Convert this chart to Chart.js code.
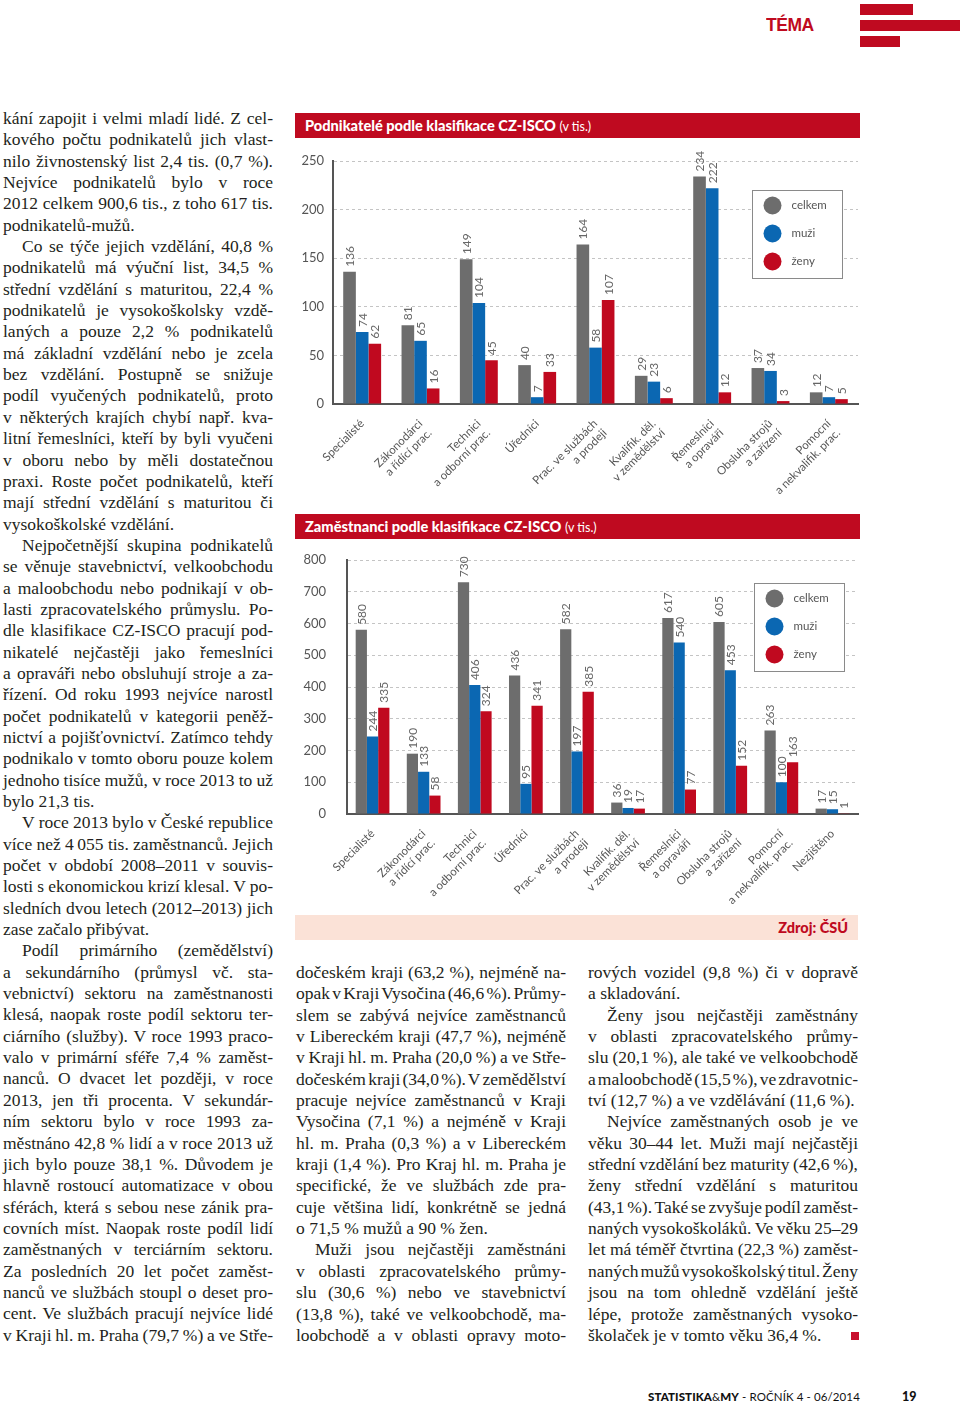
<!DOCTYPE html>
<html lang="cs">
<head>
<meta charset="utf-8">
<title>Podnikatelé a zaměstnanci podle klasifikace CZ-ISCO</title>
<script src="https://cdn.jsdelivr.net/npm/chart.js@4.4.1/dist/chart.umd.min.js"></script>
<style>
	html, body { margin: 0; padding: 0; background: #fff; }
	body { width: 960px; height: 1405px; position: relative; overflow: hidden; }
	.col { position: absolute; width: 270px; font-family: "Liberation Serif", serif; font-size: 17.5px; line-height: 21.35px; color: #231f20; }
	.ln { height: 21.35px; white-space: nowrap; }
	.ln.ind { padding-left: 19px; }
	.bar-title { position: absolute; left: 295px; width: 555px; height: 25px; line-height: 25px; padding-left: 10px; background: #bf0a20; color: #fff; font-family: Lato, sans-serif; font-size: 14.6px; font-weight: 900; }
	.bar-title span { font-weight: 400; font-size: 12.5px; }
	.source { position: absolute; left: 295px; top: 915px; width: 553px; height: 25px; line-height: 25px; padding-right: 10px; background: #fbe2d7; color: #bf0a20; text-align: right; font-family: Lato, sans-serif; font-weight: 900; font-size: 14.5px; }
	.chart-box { position: absolute; left: 290px; }
	.tema { position: absolute; left: 766px; top: 14px; color: #bf0a20; font-family: "Liberation Sans", sans-serif; font-weight: bold; font-size: 19px; letter-spacing: -0.5px; transform: scaleX(0.92); transform-origin: left top; }
	.stripe { position: absolute; left: 860px; background: #bf0a20; height: 11px; }
	.foot { position: absolute; top: 1390px; left: 648px; font-family: Lato, sans-serif; font-size: 11.5px; color: #111; letter-spacing: 0.1px; }
	.foot b { font-weight: 900; }
	.pageno { position: absolute; top: 1389px; left: 902px; font-family: Lato, sans-serif; font-size: 12.5px; font-weight: 900; color: #111; }
	.endmark { position: absolute; left: 851px; top: 1332px; width: 8px; height: 8px; background: #c8102e; }
</style>
</head>
<body>

<div class="tema">TÉMA</div>
<div class="stripe" style="top:4px; width:53px;"></div>
<div class="stripe" style="top:20px; width:100px;"></div>
<div class="stripe" style="top:36px; width:40px;"></div>

<div class="col" id="colLeft" style="left:3px; top:108px;"></div>
<div class="col" id="colMid" style="left:296px; top:962px;"></div>
<div class="col" id="colRight" style="left:588px; top:962px;"></div>
<div class="endmark"></div>

<div class="bar-title" style="top:113px;">Podnikatelé podle klasifikace CZ-ISCO <span>(v tis.)</span></div>
<div class="chart-box" style="top:140px;"><canvas id="graphicOwners" width="572" height="360"></canvas></div>

<div class="bar-title" style="top:514px;">Zaměstnanci podle klasifikace CZ-ISCO <span>(v tis.)</span></div>
<div class="chart-box" style="top:540px;"><canvas id="graphicEmployees" width="572" height="370"></canvas></div>

<div class="source">Zdroj: ČSÚ</div>

<div class="foot"><b>STATISTIKA</b>&amp;<b>MY</b> - ROČNÍK 4 - 06/2014</div>
<div class="pageno">19</div>

<script>
// chart data
var seriesNames = ['celkem', 'muži', 'ženy'];
var seriesColors = ['#6d6d6d', '#0b67b2', '#c0091f'];

var ownersCategories = [
	'Specialisté', ['Zákonodárci', 'a řídící prac.'], ['Technici', 'a odborní prac.'], 'Úředníci',
	['Prac. ve službách', 'a prodeji'], ['Kvalifik. děl.', 'v zemědělství'], ['Řemeslníci', 'a opraváři'],
	['Obsluha strojů', 'a zařízení'], ['Pomocní', 'a nekvalifik. prac.']
];
var ownersTotal = [136, 81, 149, 40, 164, 29, 234, 37, 12];
var ownersMen = [74, 65, 104, 7, 58, 23, 222, 34, 7];
var ownersWomen = [62, 16, 45, 33, 107, 6, 12, 3, 5];
var ownersAxisMax = 250;
var ownersAxisStep = 50;

var employeesCategories = [
	'Specialisté', ['Zákonodárci', 'a řídící prac.'], ['Technici', 'a odborní prac.'], 'Úředníci',
	['Prac. ve službách', 'a prodeji'], ['Kvalifik. děl.', 'v zemědělství'], ['Řemeslníci', 'a opraváři'],
	['Obsluha strojů', 'a zařízení'], ['Pomocní', 'a nekvalifik. prac.'], 'Nezjištěno'
];
var employeesTotal = [580, 190, 730, 436, 582, 36, 617, 605, 263, 17];
var employeesMen = [244, 133, 406, 95, 197, 19, 540, 453, 100, 15];
var employeesWomen = [335, 58, 324, 341, 385, 17, 77, 152, 163, 1];
var employeesAxisMax = 800;
var employeesAxisStep = 100;

// article text, one entry per printed line ('>' = indent, '|' = last line of paragraph)
var textLeft = [
	'kání zapojit i velmi mladí lidé. Z cel-', 'kového počtu podnikatelů jich vlast-', 'nilo živnostenský list 2,4 tis. (0,7 %).',
	'Nejvíce podnikatelů bylo v roce', '2012 celkem 900,6 tis., z toho 617 tis.', 'podnikatelů-mužů.|',
	'>Co se týče jejich vzdělání, 40,8 %', 'podnikatelů má výuční list, 34,5 %', 'střední vzdělání s maturitou, 22,4 %',
	'podnikatelů je vysokoškolsky vzdě-', 'laných a pouze 2,2 % podnikatelů', 'má základní vzdělání nebo je zcela',
	'bez vzdělání. Postupně se snižuje', 'podíl vyučených podnikatelů, proto', 'v některých krajích chybí např. kva-',
	'litní řemeslníci, kteří by byli vyučeni', 'v oboru nebo by měli dostatečnou', 'praxi. Roste počet podnikatelů, kteří',
	'mají střední vzdělání s maturitou či', 'vysokoškolské vzdělání.|',
	'>Nejpočetnější skupina podnikatelů', 'se věnuje stavebnictví, velkoobchodu', 'a maloobchodu nebo podnikají v ob-',
	'lasti zpracovatelského průmyslu. Po-', 'dle klasifikace CZ-ISCO pracují pod-', 'nikatelé nejčastěji jako řemeslníci',
	'a opraváři nebo obsluhují stroje a za-', 'řízení. Od roku 1993 nejvíce narostl', 'počet podnikatelů v kategorii peněž-',
	'nictví a pojišťovnictví. Zatímco tehdy', 'podnikalo v tomto oboru pouze kolem', 'jednoho tisíce mužů, v roce 2013 to už',
	'bylo 21,3 tis.|',
	'>V roce 2013 bylo v České republice', 'více než 4\u202f055 tis. zaměstnanců. Jejich', 'počet v období 2008–2011 v souvis-',
	'losti s ekonomickou krizí klesal. V po-', 'sledních dvou letech (2012–2013) jich', 'zase začalo přibývat.|',
	'>Podíl primárního (zemědělství)', 'a sekundárního (průmysl vč. sta-', 'vebnictví) sektoru na zaměstnanosti',
	'klesá, naopak roste podíl sektoru ter-', 'ciárního (služby). V roce 1993 praco-', 'valo v primární sféře 7,4 % zaměst-',
	'nanců. O dvacet let později, v roce', '2013, jen tři procenta. V sekundár-', 'ním sektoru bylo v roce 1993 za-',
	'městnáno 42,8 % lidí a v roce 2013 už', 'jich bylo pouze 38,1 %. Důvodem je', 'hlavně rostoucí automatizace v obou',
	'sférách, která s sebou nese zánik pra-', 'covních míst. Naopak roste podíl lidí', 'zaměstnaných v terciárním sektoru.',
	'Za posledních 20 let počet zaměst-', 'nanců ve službách stoupl o deset pro-', 'cent. Ve službách pracují nejvíce lidé',
	'v Kraji hl. m. Praha (79,7 %) a ve Stře-'
];
var textMid = [
	'dočeském kraji (63,2 %), nejméně na-', 'opak v Kraji Vysočina (46,6 %). Průmy-', 'slem se zabývá nejvíce zaměstnanců',
	'v Libereckém kraji (47,7 %), nejméně', 'v Kraji hl. m. Praha (20,0 %) a ve Stře-', 'dočeském kraji (34,0 %). V zemědělství',
	'pracuje nejvíce zaměstnanců v Kraji', 'Vysočina (7,1 %) a nejméně v Kraji', 'hl. m. Praha (0,3 %) a v Libereckém',
	'kraji (1,4 %). Pro Kraj hl. m. Praha je', 'specifické, že ve službách zde pra-', 'cuje většina lidí, konkrétně se jedná',
	'o 71,5 % mužů a 90 % žen.|',
	'>Muži jsou nejčastěji zaměstnáni', 'v oblasti zpracovatelského průmy-', 'slu (30,6 %) nebo ve stavebnictví',
	'(13,8 %), také ve velkoobchodě, ma-', 'loobchodě a v oblasti opravy moto-'
];
var textRight = [
	'rových vozidel (9,8 %) či v dopravě', 'a skladování.|',
	'>Ženy jsou nejčastěji zaměstnány', 'v oblasti zpracovatelského průmy-', 'slu (20,1 %), ale také ve velkoobchodě',
	'a maloobchodě (15,5 %), ve zdravotnic-', 'tví (12,7 %) a ve vzdělávání (11,6 %).|',
	'>Nejvíce zaměstnaných osob je ve', 'věku 30–44 let. Muži mají nejčastěji', 'střední vzdělání bez maturity (42,6 %),',
	'ženy střední vzdělání s maturitou', '(43,1 %). Také se zvyšuje podíl zaměst-', 'naných vysokoškoláků. Ve věku 25–29',
	'let má téměř čtvrtina (22,3 %) zaměst-', 'naných mužů vysokoškolský titul. Ženy', 'jsou na tom ohledně vzdělání ještě',
	'lépe, protože zaměstnaných vysoko-', 'školaček je v tomto věku 36,4 %.|'
];

var Stat = Stat || {};

Stat.Column = (function() {

	function Column(id, lines) {
		this.el = document.getElementById(id);
		this.lines = lines;
	}

	Column.prototype.init = function() {
		var el = this.el;
		this.lines.forEach(function(raw) {
			var indent = raw.charAt(0) === '>';
			var last = raw.charAt(raw.length - 1) === '|';
			var text = raw.replace(/^>/, '').replace(/\|$/, '');
			var div = document.createElement('div');
			div.className = 'ln' + (indent ? ' ind' : '');
			var span = document.createElement('span');
			span.textContent = text;
			div.appendChild(span);
			el.appendChild(div);
			if (!last) {
				var avail = 270 - (indent ? 19 : 0);
				var spaces = (text.match(/ /g) || []).length;
				var natural = span.getBoundingClientRect().width;
				if (spaces) span.style.wordSpacing = ((avail - natural) / spaces) + 'px';
			}
		});
	}

	return Column;

}());

var valueLabels = {
	id: 'valueLabels',
	afterDatasetsDraw: function(chart) {
		var ctx = chart.ctx;
		ctx.save();
		ctx.font = '12px Lato';
		ctx.fillStyle = '#666';
		ctx.textAlign = 'left';
		ctx.textBaseline = 'middle';
		chart.data.datasets.forEach(function(ds, i) {
			chart.getDatasetMeta(i).data.forEach(function(bar, j) {
				ctx.save();
				ctx.translate(bar.x + 0.5, bar.y - 5);
				ctx.rotate(-Math.PI / 2);
				ctx.fillText(String(ds.data[j]), 0, 0);
				ctx.restore();
			});
		});
		ctx.restore();
	}
};

var boxLegend = {
	id: 'boxLegend',
	afterDraw: function(chart, args, opts) {
		var ctx = chart.ctx;
		var x = Math.round(chart.chartArea.right - opts.right) + 0.5;
		var y = Math.round(chart.chartArea.top + opts.top) + 0.5;
		ctx.save();
		ctx.fillStyle = '#fff';
		ctx.fillRect(x, y, 90, 88);
		ctx.strokeStyle = '#8a8a8a';
		ctx.lineWidth = 1;
		ctx.strokeRect(x, y, 90, 88);
		ctx.font = '11.5px Lato';
		ctx.textBaseline = 'middle';
		chart.data.datasets.forEach(function(ds, i) {
			var cy = y + 15 + i * 28;
			ctx.beginPath();
			ctx.arc(x + 20, cy, 9, 0, 2 * Math.PI);
			ctx.fillStyle = ds.backgroundColor;
			ctx.fill();
			ctx.fillStyle = '#555';
			ctx.fillText(ds.label, x + 39, cy);
		});
		ctx.restore();
	}
};

Stat.IscoChart = (function() {

	function IscoChart(canvasId, settings) {
		this.ctx = document.getElementById(canvasId).getContext('2d');
		this.settings = settings;
	}

	IscoChart.prototype.init = function() {
		var s = this.settings;
		var datasets = s.series.map(function(values, i) {
			return {
				label: seriesNames[i],
				backgroundColor: seriesColors[i],
				data: values,
				categoryPercentage: s.groupWidth,
				barPercentage: 1.0
			};
		});

		new Chart(this.ctx, {
			type: 'bar',
			data: { labels: s.categories, datasets: datasets },
			plugins: [valueLabels, boxLegend],
			options: {
				responsive: false,
				animation: false,
				devicePixelRatio: 1,
				layout: { padding: { top: s.padTop, right: 4, left: 0, bottom: 0 } },
				plugins: {
					legend: { display: false },
					tooltip: { enabled: false },
					boxLegend: { right: s.legendRight, top: s.legendTop }
				},
				scales: {
					x: {
						grid: { display: false },
						border: { display: true, color: '#555', width: 2 },
						ticks: {
							color: '#555',
							font: { family: 'Lato', size: 11.5, lineHeight: 1.15 },
							minRotation: 45,
							maxRotation: 45,
							autoSkip: false,
							padding: 5
						},
						afterFit: function(scale) { scale.height = 96; }
					},
					y: {
						min: 0,
						max: s.axisMax,
						ticks: {
							stepSize: s.axisStep,
							color: '#555',
							font: { family: 'Lato', size: 13 },
							padding: s.tickPad
						},
						grid: { color: '#c4c4c4', lineWidth: 1, drawTicks: false },
						border: { display: true, color: '#555', width: 2, dash: [3, 3] },
						afterFit: function(scale) {
							scale.width = s.axisWidth;
							scale.paddingTop = 8;
							scale.paddingBottom = 8;
						}
					}
				}
			}
		});
	}

	return IscoChart;

}());

document.fonts.ready.then(function() {

	new Stat.Column('colLeft', textLeft).init();
	new Stat.Column('colMid', textMid).init();
	new Stat.Column('colRight', textRight).init();

	var graphicOwners = new Stat.IscoChart('graphicOwners', {
		categories: ownersCategories,
		series: [ownersTotal, ownersMen, ownersWomen],
		axisMax: ownersAxisMax, axisStep: ownersAxisStep,
		groupWidth: 0.65, padTop: 21, axisWidth: 43, tickPad: 9,
		legendRight: 106, legendTop: 29
	});
	graphicOwners.init();

	var graphicEmployees = new Stat.IscoChart('graphicEmployees', {
		categories: employeesCategories,
		series: [employeesTotal, employeesMen, employeesWomen],
		axisMax: employeesAxisMax, axisStep: employeesAxisStep,
		groupWidth: 0.66, padTop: 20, axisWidth: 57, tickPad: 21,
		legendRight: 104, legendTop: 23
	});
	graphicEmployees.init();

});
</script>
</body>
</html>
